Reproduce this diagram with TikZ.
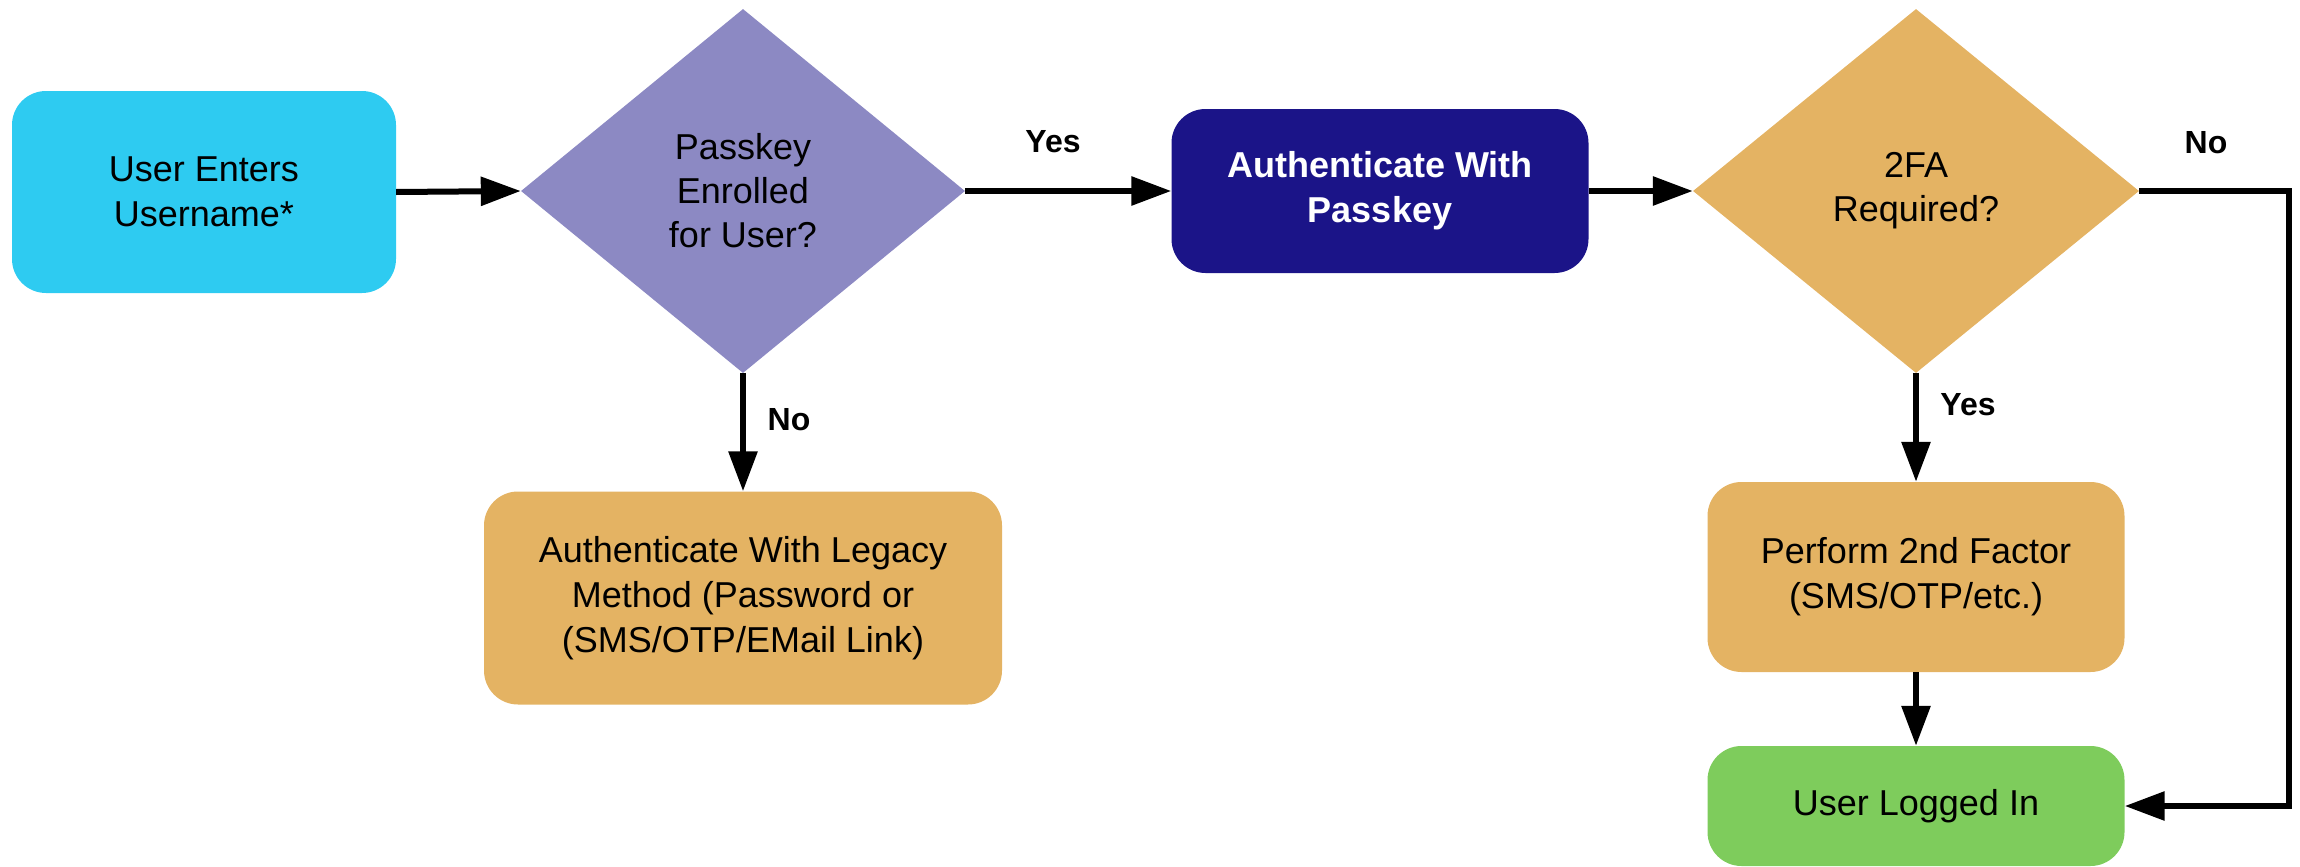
\documentclass[tikz,border=0pt]{standalone}
\usepackage{fontspec}
\setmainfont{Liberation Sans}
\usetikzlibrary{shapes.geometric,arrows.meta}

\definecolor{startcyan}{RGB}{46,203,241}
\definecolor{askpurple}{RGB}{140,137,195}
\definecolor{passnavy}{RGB}{27,20,136}
\definecolor{stepamber}{RGB}{228,179,99}
\definecolor{donegreen}{RGB}{126,204,92}

\tikzset{
  boxbase/.style={rectangle, rounded corners=34pt, inner sep=0pt, align=center,
    font=\fontsize{36}{45}\selectfont},
  decision/.style={diamond, inner sep=0pt, align=center,
    font=\fontsize{36}{44}\selectfont},
  flow/.style={line width=6pt, -{Triangle[length=40pt,width=28pt]}},
  branch/.style={font=\bfseries\fontsize{32}{38}\selectfont}
}

\begin{document}
\begin{tikzpicture}[x=1pt,y=-1pt]
  \useasboundingbox (0,0) rectangle (2300,867);

  % process boxes
  \node[boxbase, fill=startcyan, minimum width=384pt, minimum height=202pt]
    (start) at (204,192) {User Enters\\Username*};
  \node[boxbase, fill=passnavy, text=white, font=\bfseries\fontsize{36}{45}\selectfont,
    minimum width=417pt, minimum height=164pt]
    (passkey) at (1380,191) {Authenticate With\\Passkey};
  \node[boxbase, fill=stepamber, minimum width=518pt, minimum height=213pt]
    (legacy) at (743,598) {Authenticate With Legacy\\Method (Password or\\(SMS/OTP/EMail Link)};
  \node[boxbase, fill=stepamber, minimum width=417pt, minimum height=190pt]
    (second) at (1916,577) {Perform 2nd Factor\\(SMS/OTP/etc.)};
  \node[boxbase, fill=donegreen, minimum width=417pt, minimum height=120pt]
    (done) at (1916,806) {User Logged In};

  % decisions
  \node[decision, fill=askpurple, minimum width=444pt, minimum height=364pt]
    (enrolled) at (743,191) {Passkey\\Enrolled\\for User?};
  \node[decision, fill=stepamber, minimum width=446pt, minimum height=364pt]
    (twofa) at (1916,191) {2FA\\Required?};

  \coordinate (noturn) at (2289,191);

  % connectors
  \draw[flow] (start.east) -- (enrolled.west);
  \draw[flow] (enrolled.east) -- (passkey.west);
  \draw[flow] (enrolled.south) -- (legacy.north);
  \draw[flow] (passkey.east) -- (twofa.west);
  \draw[flow] (twofa.south) -- (second.north);
  \draw[flow] (second.south) -- (done.north);
  \draw[flow] (twofa.east) -- (noturn) |- (done.east);

  % branch labels
  \node[branch] (yes1) at (1053,142) {Yes};
  \node[branch] (no1) at (789,420) {No};
  \node[branch] (no2) at (2206,143) {No};
  \node[branch] (yes2) at (1968,405) {Yes};
\end{tikzpicture}
\end{document}
